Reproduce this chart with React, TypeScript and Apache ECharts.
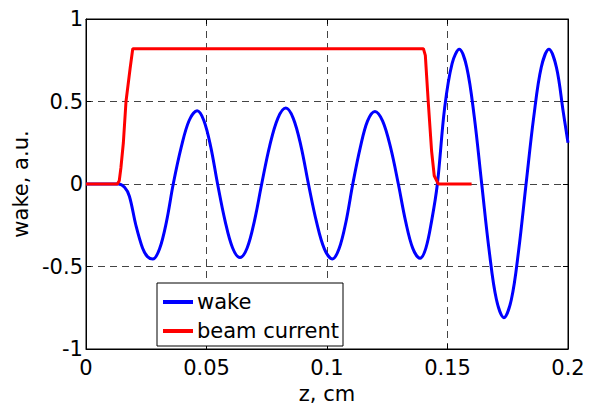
import React, { useEffect, useRef } from "react";
import * as echarts from "echarts";

const wakeZ = [0, 0.0135, 0.016, 0.018, 0.0207, 0.0235, 0.0255, 0.0277, 0.0305, 0.0334, 0.0362, 0.0395, 0.0428, 0.0461, 0.0489, 0.0518, 0.0546, 0.0577, 0.0608, 0.0639, 0.0669, 0.0699, 0.0729, 0.0762, 0.0796, 0.0829, 0.086, 0.0892, 0.0923, 0.0956, 0.0989, 0.1022, 0.105, 0.1079, 0.1107, 0.1138, 0.1168, 0.1199, 0.1231, 0.1264, 0.1296, 0.1326, 0.1356, 0.1386, 0.141, 0.1434, 0.1458, 0.1488, 0.1519, 0.1549, 0.158, 0.1611, 0.1642, 0.1673, 0.1703, 0.1734, 0.1765, 0.1795, 0.1826, 0.1858, 0.1889, 0.1921, 0.1952, 0.198, 0.2];
const wakeVal = [0, 0, -0.02, -0.074, -0.25, -0.39, -0.44, -0.455, -0.394, -0.228, 0, 0.222, 0.385, 0.444, 0.385, 0.222, 0, -0.223, -0.386, -0.446, -0.386, -0.223, 0, 0.23, 0.398, 0.46, 0.398, 0.23, 0, -0.227, -0.393, -0.454, -0.393, -0.227, 0, 0.22, 0.381, 0.44, 0.381, 0.22, 0, -0.225, -0.39, -0.45, -0.39, -0.225, 0, 0.46, 0.73, 0.816, 0.707, 0.408, 0, -0.405, -0.7, -0.81, -0.7, -0.405, 0, 0.408, 0.707, 0.816, 0.707, 0.44, 0.25];

const beamZ = [0, 0.013, 0.0138, 0.0145, 0.0155, 0.0166, 0.0183, 0.0194, 0.14, 0.1408, 0.142, 0.1434, 0.1445, 0.1462, 0.16];
const beamVal = [0, 0, 0.02, 0.1, 0.25, 0.5, 0.7, 0.82, 0.82, 0.78, 0.5, 0.2, 0.05, 0, 0];

const seriesNames = ["wake", "beam current"];
const xAxisName = "z, cm";
const yAxisName = "wake, a.u.";

const FONT = "DejaVu Sans";

export default function App() {
  const ref = useRef<HTMLDivElement>(null);
  useEffect(() => {
    if (!ref.current) return;
    const chart = echarts.init(ref.current, undefined, { renderer: "svg" });
    const wakeData = wakeZ.map((z, i) => [z, wakeVal[i]]);
    const beamData = beamZ.map((z, i) => [z, beamVal[i]]);
    const grid = "#444";
    chart.setOption({
      animation: false,
      backgroundColor: "#fff",
      grid: { left: 86, top: 19, width: 482, height: 337, show: true, borderColor: "#000", borderWidth: 1, backgroundColor: "transparent" },
      legend: {
        left: 157,
        top: 283,
        orient: "vertical",
        backgroundColor: "#fff",
        borderColor: "#000",
        borderWidth: 1,
        borderRadius: 0,
        padding: [8, 4, 4, 6],
        itemGap: 7,
        itemWidth: 30,
        itemHeight: 4,
        icon: "rect",
        textStyle: { fontFamily: FONT, fontSize: 21, color: "#000", lineHeight: 22, padding: [0, 0, 0, -1] },
        data: seriesNames,
      },
      xAxis: [
        {
          type: "value", min: 0, max: 0.2, interval: 0.05, position: "bottom",
          name: xAxisName, nameLocation: "middle", nameGap: 34,
          nameTextStyle: { fontFamily: FONT, fontSize: 21, color: "#000" },
          axisLine: { show: true, onZero: false, lineStyle: { color: "#000", width: 1 } },
          axisTick: { show: true, inside: true, length: 5, lineStyle: { color: "#000" } },
          axisLabel: { fontFamily: FONT, fontSize: 21, color: "#000", margin: 8 },
          splitLine: { show: true, lineStyle: { color: grid, type: [7, 5], width: 1 } },
        },
        {
          type: "value", min: 0, max: 0.2, interval: 0.05, position: "top",
          axisLine: { show: true, onZero: false, lineStyle: { color: "#000", width: 1 } },
          axisTick: { show: true, inside: true, length: 5, lineStyle: { color: "#000" } },
          axisLabel: { show: false },
          splitLine: { show: false },
        },
      ],
      yAxis: [
        {
          type: "value", min: -1, max: 1, interval: 0.5, position: "left",
          name: yAxisName, nameLocation: "middle", nameGap: 50, nameRotate: 90,
          nameTextStyle: { fontFamily: FONT, fontSize: 21, color: "#000" },
          axisLine: { show: true, onZero: false, lineStyle: { color: "#000", width: 1 } },
          axisTick: { show: true, inside: true, length: 5, lineStyle: { color: "#000" } },
          axisLabel: { fontFamily: FONT, fontSize: 21, color: "#000", margin: 3 },
          splitLine: { show: true, lineStyle: { color: grid, type: [7, 5], width: 1 } },
        },
        {
          type: "value", min: -1, max: 1, interval: 0.5, position: "right",
          axisLine: { show: true, onZero: false, lineStyle: { color: "#000", width: 1 } },
          axisTick: { show: true, inside: true, length: 5, lineStyle: { color: "#000" } },
          axisLabel: { show: false },
          splitLine: { show: false },
        },
      ],
      series: [
        {
          name: seriesNames[0], type: "line", data: wakeData, xAxisIndex: 0, yAxisIndex: 0,
          showSymbol: false, symbol: "none", smooth: 0.35, color: "#0000ff",
          lineStyle: { color: "#0000ff", width: 3 },
        },
        {
          name: seriesNames[1], type: "line", data: beamData, xAxisIndex: 0, yAxisIndex: 0,
          showSymbol: false, symbol: "none", smooth: false, color: "#ff0000",
          lineStyle: { color: "#ff0000", width: 3 },
        },
      ],
    });
    return () => chart.dispose();
  }, []);
  return <div ref={ref} style={{ width: 591, height: 409, position: "absolute", left: 0, top: 0 }} />;
}
